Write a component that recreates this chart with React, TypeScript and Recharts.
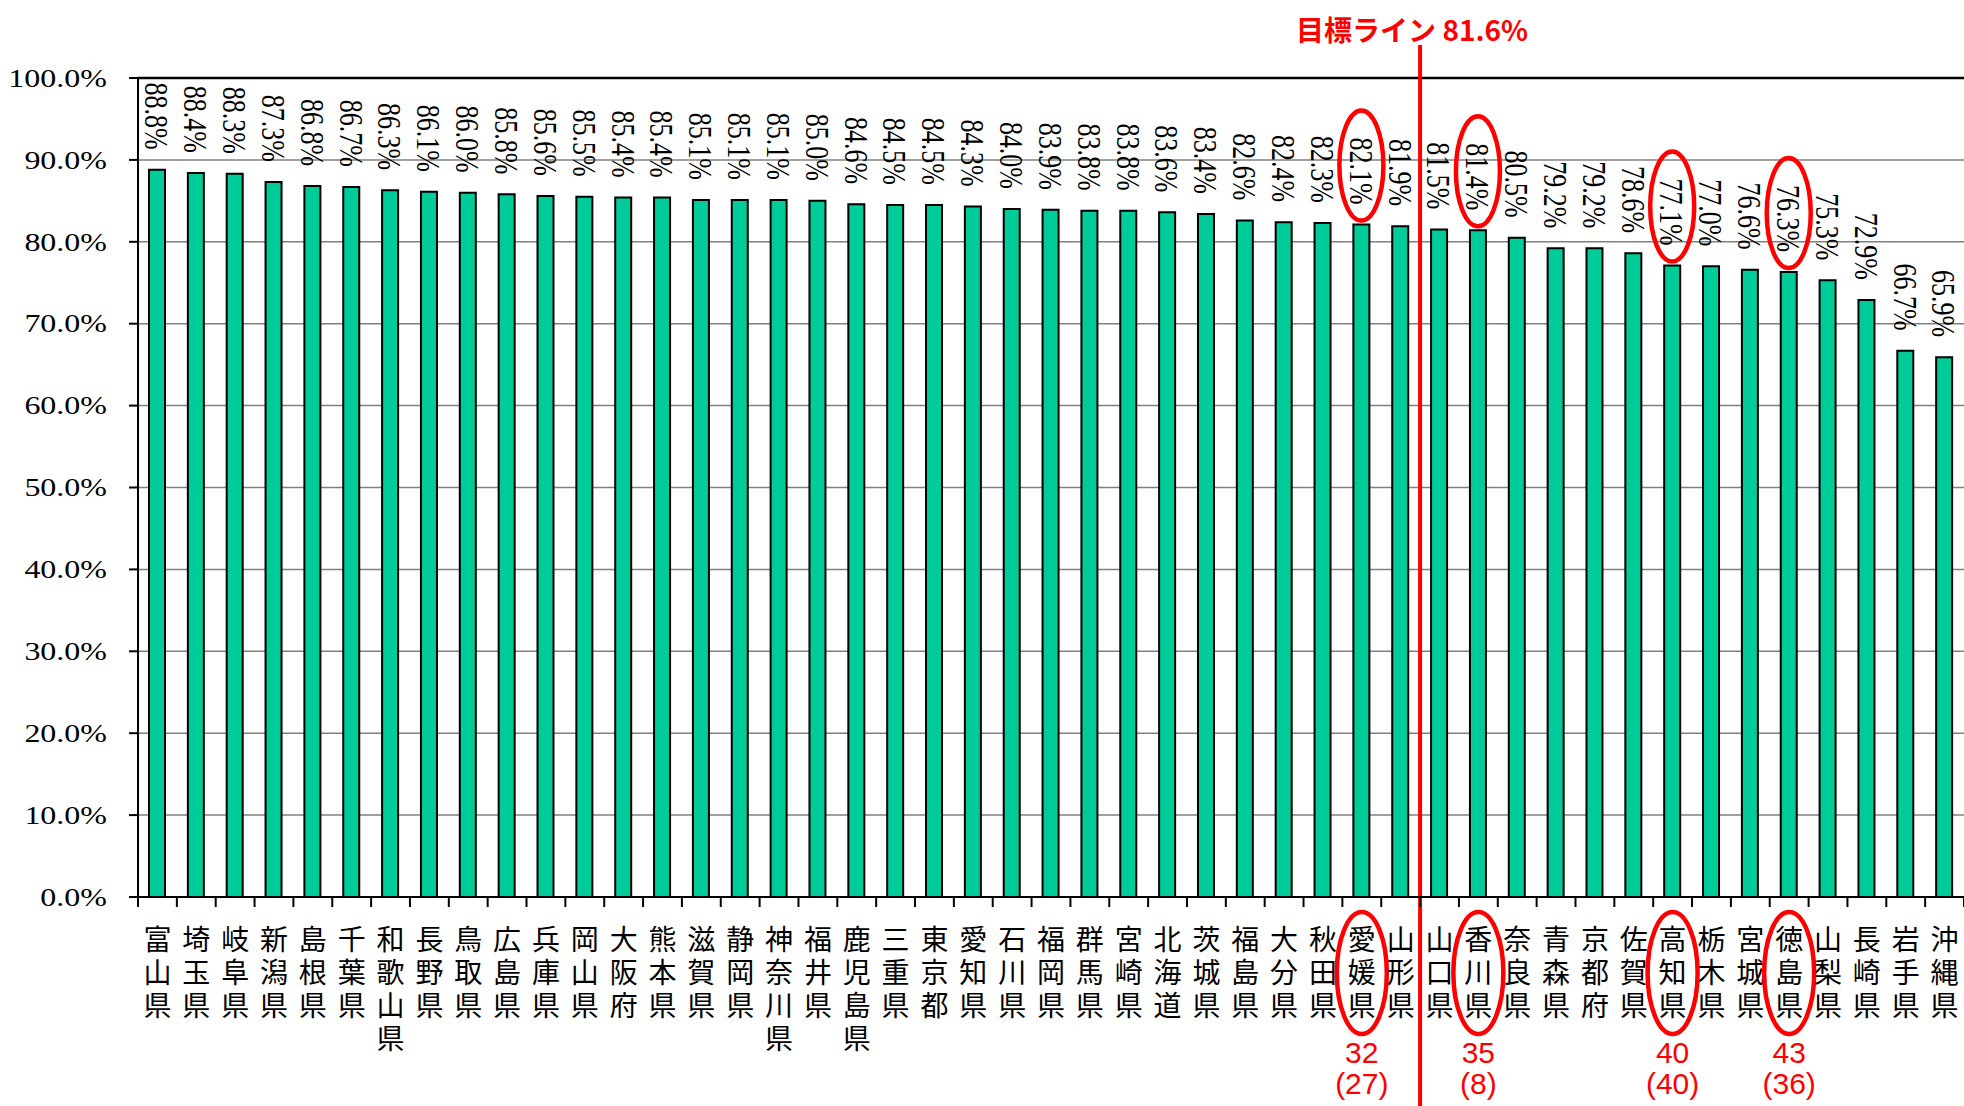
import React from 'react';
import { BarChart, Bar, XAxis, YAxis, CartesianGrid, LabelList, ReferenceLine } from 'recharts';

const prefectures = [
  '富山県', '埼玉県', '岐阜県', '新潟県', '島根県', '千葉県', '和歌山県', '長野県',
  '鳥取県', '広島県', '兵庫県', '岡山県', '大阪府', '熊本県', '滋賀県', '静岡県',
  '神奈川県', '福井県', '鹿児島県', '三重県', '東京都', '愛知県', '石川県', '福岡県',
  '群馬県', '宮崎県', '北海道', '茨城県', '福島県', '大分県', '秋田県', '愛媛県',
  '山形県', '山口県', '香川県', '奈良県', '青森県', '京都府', '佐賀県', '高知県',
  '栃木県', '宮城県', '徳島県', '山梨県', '長崎県', '岩手県', '沖縄県',
];
const rates = [
  88.8, 88.4, 88.3, 87.3, 86.8, 86.7, 86.3, 86.1,
  86.0, 85.8, 85.6, 85.5, 85.4, 85.4, 85.1, 85.1,
  85.1, 85.0, 84.6, 84.5, 84.5, 84.3, 84.0, 83.9,
  83.8, 83.8, 83.6, 83.4, 82.6, 82.4, 82.3, 82.1,
  81.9, 81.5, 81.4, 80.5, 79.2, 79.2, 78.6, 77.1,
  77.0, 76.6, 76.3, 75.3, 72.9, 66.7, 65.9,
];
const yTicks = [0, 10, 20, 30, 40, 50, 60, 70, 80, 90, 100];
const targetRate = 81.6;
const targetTitle = '目標ライン';
const highlighted = ['愛媛県', '香川県', '高知県', '徳島県'];
const rankNow = ['32', '35', '40', '43'];
const rankPrev = ['(27)', '(8)', '(40)', '(36)'];

// layout
const W = 1964;
const H = 1106;
const TOP = 78;
const AXIS_W = 138;
const XAXIS_H = 209;
const BAND = (W - AXIS_W) / prefectures.length;
const RED = '#FF0000';
const SERIF = "'Liberation Serif', 'Times New Roman', serif";
const GOTHIC = "'Noto Sans CJK JP', sans-serif";
const SANS = "'Liberation Sans', Arial, sans-serif";
// the source picture is stretched sideways, so its serif text is wider than tall
const STRETCH = 1.28;

const data = prefectures.map((name, i) => ({ name, rate: rates[i] }));
const cutName = prefectures[rates.findIndex((r) => r < targetRate)];

const ValueLabel = (props: any) => {
  const { x, y, width, value, index } = props;
  const cx = Number(x) + Number(width) / 2;
  const end = Number(y) - 20;
  const hl = highlighted.includes(prefectures[index]);
  return (
    <g>
      <text
        transform={`translate(${cx} ${end}) scale(${STRETCH} 1) rotate(90)`}
        textAnchor="end"
        dominantBaseline="central"
        fontFamily={SERIF}
        fontSize={26}
        fill="#000"
      >
        {`${Number(value).toFixed(1)}%`}
      </text>
      {hl && <ellipse cx={cx} cy={end - 39} rx={22} ry={55} fill="none" stroke={RED} strokeWidth={4.5} />}
    </g>
  );
};

const PercentTick = (props: any) => {
  const { x, y, payload } = props;
  return (
    <text
      transform={`translate(${x} ${y}) scale(${STRETCH} 1)`}
      textAnchor="end"
      dominantBaseline="central"
      fontFamily={SERIF}
      fontSize={25}
      fill="#000"
    >
      {`${Number(payload.value).toFixed(1)}%`}
    </text>
  );
};

const CategoryTick = (props: any) => {
  const { x, y, payload } = props;
  const name = String(payload.value);
  const i = prefectures.indexOf(name);
  const left = x - BAND / 2;
  const hl = highlighted.indexOf(name);
  return (
    <g>
      <line x1={left} x2={left} y1={y} y2={y + 10} stroke="#000" strokeWidth={2} />
      {i === prefectures.length - 1 && (
        <line x1={left + BAND} x2={left + BAND} y1={y} y2={y + 10} stroke="#000" strokeWidth={2} />
      )}
      <text
        x={x}
        y={y + 28}
        textAnchor="start"
        fontFamily={GOTHIC}
        fontSize={28}
        letterSpacing={5}
        fill="#000"
        style={{ writingMode: 'vertical-rl' }}
      >
        {name}
      </text>
      {hl >= 0 && (
        <g>
          <ellipse cx={x} cy={y + 76} rx={25} ry={61} fill="none" stroke={RED} strokeWidth={4.5} />
          <text x={x} y={y + 155} textAnchor="middle" dominantBaseline="central" fontFamily={SANS} fontSize={30} fill={RED}>
            {rankNow[hl]}
          </text>
          <text x={x} y={y + 186} textAnchor="middle" dominantBaseline="central" fontFamily={SANS} fontSize={30} fill={RED}>
            {rankPrev[hl]}
          </text>
        </g>
      )}
    </g>
  );
};

const TargetLine = (props: any) => {
  const x = Number(props.x1);
  return (
    <g>
      <line x1={x} x2={x} y1={45} y2={H} stroke={RED} strokeWidth={4} />
      <text
        x={x - 8}
        y={29}
        textAnchor="middle"
        dominantBaseline="central"
        fontFamily={GOTHIC}
        fontWeight="bold"
        fontSize={28}
        fill={RED}
      >
        {`${targetTitle} ${targetRate}%`}
      </text>
    </g>
  );
};

export default function App() {
  return (
    <div style={{ position: 'absolute', left: 0, top: 0, width: W, height: H, background: '#fff' }}>
      <BarChart width={W} height={H} data={data} margin={{ top: TOP, right: 0, left: 0, bottom: 0 }}>
        <CartesianGrid vertical={false} stroke="#808080" strokeWidth={1.5} />
        <XAxis
          dataKey="name"
          interval={0}
          height={XAXIS_H}
          tickSize={0}
          tickMargin={0}
          tickLine={false}
          axisLine={{ stroke: '#000', strokeWidth: 2 }}
          tick={<CategoryTick />}
        />
        <YAxis
          domain={[0, 100]}
          ticks={yTicks}
          interval={0}
          width={AXIS_W}
          tickSize={9}
          tickMargin={22}
          axisLine={{ stroke: '#000', strokeWidth: 2 }}
          tickLine={{ stroke: '#000', strokeWidth: 2 }}
          tick={<PercentTick />}
        />
        <ReferenceLine y={100} stroke="#000" strokeWidth={2.5} />
        <Bar dataKey="rate" fill="#00CC99" stroke="#000" strokeWidth={2} barSize={16} isAnimationActive={false}>
          <LabelList dataKey="rate" content={ValueLabel} />
        </Bar>
        <ReferenceLine x={cutName} position="start" ifOverflow="visible" shape={TargetLine} />
      </BarChart>
    </div>
  );
}
